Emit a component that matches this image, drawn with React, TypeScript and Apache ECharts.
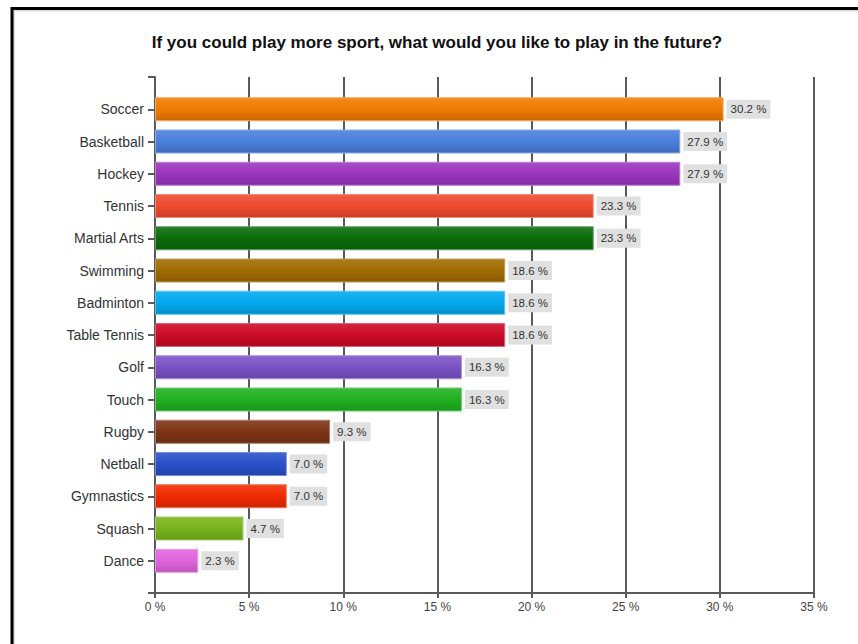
import React, { useEffect, useRef } from "react";
import * as echarts from "echarts";

const titleText = "If you could play more sport, what would you like to play in the future?";
const categories = [
  "Soccer", "Basketball", "Hockey", "Tennis", "Martial Arts", "Swimming", "Badminton",
  "Table Tennis", "Golf", "Touch", "Rugby", "Netball", "Gymnastics", "Squash", "Dance",
];
const values = [30.2, 27.9, 27.9, 23.3, 23.3, 18.6, 18.6, 18.6, 16.3, 16.3, 9.3, 7.0, 7.0, 4.7, 2.3];
const barColors = [
  "#F07A00", "#4A7FDB", "#9B35BE", "#EE4A2E", "#0A6C0A", "#A06A00", "#00A8EE", "#CC0A28",
  "#7A52C4", "#20B020", "#7D3414", "#2850C8", "#F02A00", "#78B41A", "#E064DC",
];
const xMin = 0;
const xMax = 35;
const xStep = 5;

function shade(hex: string, f: number): string {
  const n = parseInt(hex.slice(1), 16);
  let r = (n >> 16) & 255, g = (n >> 8) & 255, b = n & 255;
  if (f >= 0) {
    r = Math.round(r + (255 - r) * f); g = Math.round(g + (255 - g) * f); b = Math.round(b + (255 - b) * f);
  } else {
    r = Math.round(r * (1 + f)); g = Math.round(g * (1 + f)); b = Math.round(b * (1 + f));
  }
  return "rgb(" + r + "," + g + "," + b + ")";
}

export default function App() {
  const ref = useRef<HTMLDivElement>(null);
  useEffect(() => {
    if (!ref.current) return;
    const chart = echarts.init(ref.current, undefined, { renderer: "svg" });
    const axisColor = "#5a5a5a";
    const font = "'Liberation Sans', Arial, sans-serif";
    const gridLeft = 155;
    const gridTop = 77;
    const gridW = 659;
    const gridH = 516;
    const band = gridH / (categories.length + 1);
    chart.setOption({
      animation: false,
      backgroundColor: "#ffffff",
      textStyle: { fontFamily: font },
      grid: [
        { left: gridLeft, top: gridTop, width: gridW, height: gridH },
        { left: gridLeft, top: gridTop + band / 2, width: gridW, height: gridH - band },
      ],
      xAxis: [
        {
          gridIndex: 0, type: "value", min: xMin, max: xMax, interval: xStep,
          axisLine: { show: true, onZero: false, lineStyle: { color: axisColor, width: 2 } },
          axisTick: { show: true, length: 5, lineStyle: { color: axisColor, width: 2 } },
          splitLine: { show: true, lineStyle: { color: axisColor, width: 2 } },
          axisLabel: { formatter: "{value} %", color: "#444", fontSize: 12, margin: 8, fontFamily: font },
        },
        { gridIndex: 1, type: "value", min: xMin, max: xMax, show: false },
      ],
      yAxis: [
        {
          gridIndex: 0, type: "value", min: -1, max: categories.length, interval: 1, inverse: true,
          axisLine: { show: true, onZero: false, lineStyle: { color: axisColor, width: 2 } },
          axisTick: { show: true, length: 7, lineStyle: { color: axisColor, width: 2 } },
          splitLine: { show: false },
          axisLabel: {
            formatter: (v: number) => categories[v] ?? "",
            color: "#333", fontSize: 14, margin: 11, fontFamily: font,
          },
        },
        { gridIndex: 1, type: "category", data: categories, inverse: true, show: false },
      ],
      series: [
        {
          type: "bar", xAxisIndex: 1, yAxisIndex: 1, barWidth: 24,
          data: values.map((v, i) => ({
            value: v,
            itemStyle: {
              color: new echarts.graphic.LinearGradient(0, 0, 0, 1, [
                { offset: 0, color: shade(barColors[i], 0.12) },
                { offset: 0.5, color: barColors[i] },
                { offset: 1, color: shade(barColors[i], -0.15) },
              ]),
              borderColor: shade(barColors[i], 0.35),
              borderWidth: 1,
            },
          })),
          label: {
            show: true, position: "right", distance: 3,
            formatter: (p: any) => Number(p.value).toFixed(1) + " %",
            backgroundColor: "#E0E0E0", padding: [4, 4, 3, 4],
            color: "#333", fontSize: 11.5, fontFamily: font,
          },
        },
      ],
      graphic: [
        {
          type: "rect", shape: { x: 14, y: 10.5, width: 900, height: 700 },
          style: { fill: "none", stroke: "#dddddd", lineWidth: 2 }, silent: true,
        },
        {
          type: "rect", shape: { x: 12, y: 8.5, width: 900, height: 700 },
          style: { fill: "none", stroke: "#000000", lineWidth: 3 }, silent: true,
        },
        {
          type: "text", x: 437, y: 42,
          style: {
            text: titleText, fill: "#111", fontSize: 17, fontWeight: "bold", fontFamily: font,
            textAlign: "center", textVerticalAlign: "middle",
          },
        },
      ],
    });
    return () => chart.dispose();
  }, []);
  return <div ref={ref} style={{ position: "fixed", left: 0, top: 0, width: 858, height: 644 }} />;
}
